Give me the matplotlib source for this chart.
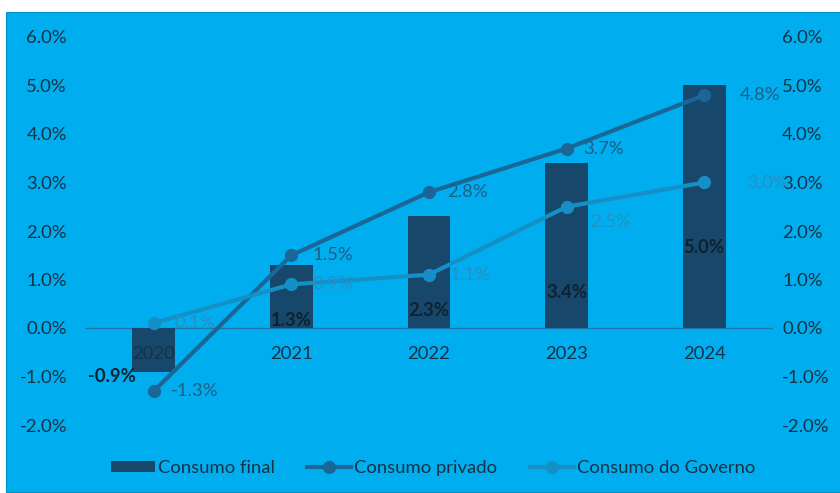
import matplotlib
matplotlib.use("Agg")
import matplotlib.pyplot as plt
import matplotlib.transforms as mtransforms
from matplotlib.patches import Rectangle

# Data
years = ["2020", "2021", "2022", "2023", "2024"]
consumo_final = [-0.9, 1.3, 2.3, 3.4, 5.0]
consumo_privado = [-1.3, 1.5, 2.8, 3.7, 4.8]
consumo_governo = [0.1, 0.9, 1.1, 2.5, 3.0]
y_ticks = [-2, -1, 0, 1, 2, 3, 4, 5, 6]

# Styling
BG = "#00AEEF"
BAR = "#17476A"
PRIV = "#1A6797"
GOV = "#1590C6"
TXT = "#163246"
FS = 13.3
plt.rcParams["font.family"] = ["Lato", "DejaVu Sans"]

W, H = 840, 493
fig = plt.figure(figsize=(W / 100, H / 100), dpi=100)
fig.patch.set_facecolor("white")
fig.add_artist(Rectangle((6 / W, 1 / H), 1 - 6 / W, (H - 13) / H,
                         transform=fig.transFigure, facecolor=BG,
                         edgecolor="#0090C8", lw=0.8, zorder=0))

ax = fig.add_axes([85 / W, (H - 425) / H, (773 - 85) / W, (425 - 37) / H])
ax.set_facecolor("none")
x = list(range(len(years)))

bars = ax.bar(x, consumo_final, width=0.31, color=BAR, zorder=2,
              label="Consumo final")
ax.axhline(0, color="#1B78A8", lw=1.0, zorder=1)
lp, = ax.plot(x, consumo_privado, color=PRIV, lw=3, marker="o", ms=8.5,
              zorder=3, label="Consumo privado")
lg, = ax.plot(x, consumo_governo, color=GOV, lw=3, marker="o", ms=8.5,
              zorder=3, label="Consumo do Governo")

ax.set_xlim(-0.5, len(years) - 0.5)
ax.set_ylim(-2, 6)
ax.set_yticks(y_ticks)
ax.set_yticklabels([f"{v:.1f}%" for v in y_ticks])
ax.tick_params(axis="y", length=0, labelsize=FS, labelcolor=TXT, pad=13,
               left=True, right=True, labelleft=True, labelright=True)
ax.set_xticks([])
for s in ax.spines.values():
    s.set_visible(False)

# right-hand tick labels sit close to the plot edge
shift = mtransforms.ScaledTranslation(-9 / 100, 0, fig.dpi_scale_trans)
for t in ax.yaxis.get_major_ticks():
    t.label2.set_transform(t.label2.get_transform() + shift)

# category labels just below the zero line
for xi, yr in zip(x, years):
    ax.annotate(yr, (xi, 0), xytext=(0, -19), textcoords="offset points",
                ha="center", va="center", fontsize=FS, color=TXT, zorder=4)

# bar value labels
bar_label_y = [-1.0, 0.16, 0.37, 0.74, 1.65]
bar_label_dx = [-30, 0, 0, 0, 0]
for xi, v, ly, dx in zip(x, consumo_final, bar_label_y, bar_label_dx):
    ax.annotate(f"{v:.1f}%", (xi, ly), xytext=(dx, 0), textcoords="offset points",
                ha="center", va="center", fontsize=FS, fontweight="bold",
                color="#0E2230", zorder=5)

# line value labels (offsets in points)
priv_dx = [12, 15, 13, 12, 26]
priv_dy = [0, 0, 0, 0, 0]
gov_dx = [15, 15, 15, 17, 31]
gov_dy = [0, 0, 0, -11, 0]
for xi, v, dx, dy in zip(x, consumo_privado, priv_dx, priv_dy):
    ax.annotate(f"{v:.1f}%", (xi, v), xytext=(dx, dy), textcoords="offset points",
                ha="left", va="center", fontsize=FS, color="#1D5E88", zorder=5)
for xi, v, dx, dy in zip(x, consumo_governo, gov_dx, gov_dy):
    ax.annotate(f"{v:.1f}%", (xi, v), xytext=(dx, dy), textcoords="offset points",
                ha="left", va="center", fontsize=FS, color="#2590C2", zorder=5)

fig.legend([bars, lp, lg], ["Consumo final", "Consumo privado", "Consumo do Governo"],
           loc="center", ncol=3, bbox_to_anchor=(433 / W, (H - 468) / H),
           frameon=False, fontsize=FS, handlelength=2.4, handleheight=0.6,
           handletextpad=0.15, columnspacing=1.75, labelcolor=TXT)

fig.savefig("out.png", dpi=100, facecolor="white")
